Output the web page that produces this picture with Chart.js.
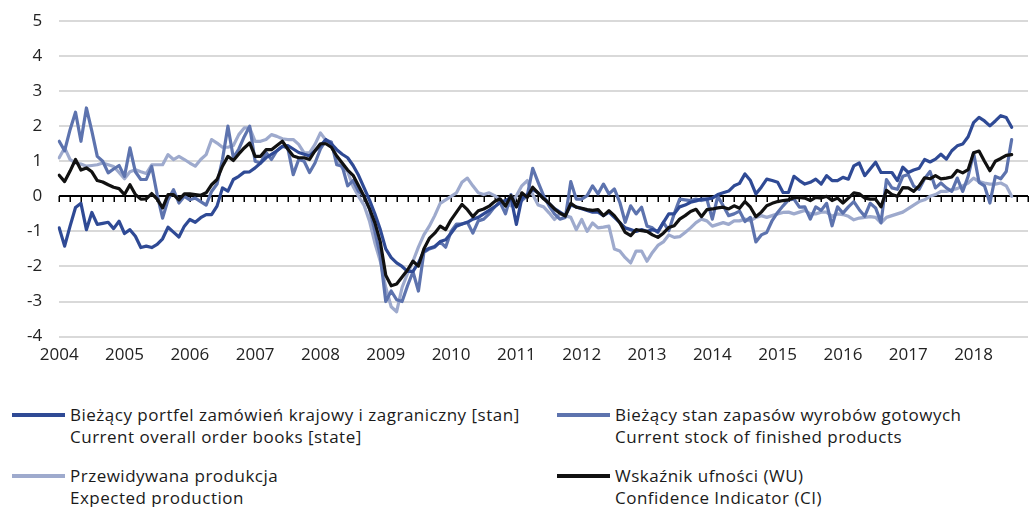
<!DOCTYPE html>
<html>
<head>
<meta charset="utf-8">
<script src="https://cdn.jsdelivr.net/npm/chart.js@4.4.1/dist/chart.umd.min.js"></script>
<style>
  body { margin: 0; background: #fff; font-family: 'Open Sans', sans-serif; }
  #wrap { position: relative; width: 1029px; height: 507px; }
  #myChart { position: absolute; left: 0; top: 0; }
  #legend { position: absolute; left: 12px; top: 404px; display: grid; grid-template-columns: 545px 470px; row-gap: 18px; }
  .item { display: flex; align-items: flex-start; }
  .swatch { width: 53px; height: 4px; margin-top: 9px; margin-right: 5px; flex: none; }
  .text { font-size: 17px; letter-spacing: 0.5px; line-height: 21.5px; color: #1a1a1a; white-space: nowrap; }
</style>
</head>
<body>
<div id="wrap">
  <canvas id="myChart" width="1029" height="372"></canvas>
  <div id="legend"></div>
</div>
<script>
// monthly data, Jan 2004 - Aug 2018
const years = ['2004', '2005', '2006', '2007', '2008', '2009', '2010', '2011',
               '2012', '2013', '2014', '2015', '2016', '2017', '2018'];
const monthsOnAxis = 179; // axis runs to Nov 2018

const orderBooks = [
    -0.9, -1.42, -0.85, -0.32, -0.2, -0.95, -0.46, -0.8, -0.77, -0.74, -0.92, -0.71,
    -1.06, -0.95, -1.14, -1.46, -1.42, -1.46, -1.37, -1.21, -0.88, -1.02, -1.16, -0.85,
    -0.66, -0.74, -0.61, -0.52, -0.52, -0.28, 0.24, 0.15, 0.48, 0.57, 0.69, 0.70,
    0.81, 0.95, 1.1, 1.2, 1.3, 1.42, 1.45, 1.35, 1.25, 1.2, 1.15, 1.3,
    1.45, 1.62, 1.5, 1.33, 1.2, 1.1, 0.88, 0.6, 0.25, -0.1, -0.5, -0.95,
    -1.5, -1.75, -1.9, -2.0, -2.14, -2.14, -1.9, -1.57, -1.48, -1.43, -1.29, -1.24,
    -1.05, -0.85, -0.79, -0.74, -0.65, -0.6, -0.5, -0.4, -0.3, -0.17, -0.12, -0.03,
    -0.8, -0.05, 0.05, 0.2, 0.1, -0.05, -0.2, -0.35, -0.45, -0.55, -0.25, -0.3,
    -0.35, -0.4, -0.45, -0.45, -0.55, -0.45, -0.6, -0.75, -0.9, -0.95, -1.0, -0.95,
    -1.0, -0.95, -1.0, -0.75, -0.5, -0.5, -0.3, -0.25, -0.17, -0.13, -0.08, -0.08,
    -0.05, 0.05, 0.1, 0.15, 0.3, 0.37, 0.64, 0.45, 0.07, 0.26, 0.49, 0.45,
    0.4, 0.11, 0.11, 0.57, 0.45, 0.35, 0.4, 0.49, 0.35, 0.59, 0.45, 0.45,
    0.54, 0.49, 0.87, 0.95, 0.59, 0.78, 0.97, 0.68, 0.68, 0.68, 0.45, 0.83,
    0.68, 0.75, 0.8, 1.05, 0.98, 1.06, 1.2, 1.06, 1.3, 1.44, 1.49, 1.7,
    2.1, 2.25, 2.15, 2.01, 2.15, 2.3, 2.25, 1.97
];

const finishedStock = [
    1.57, 1.3, 1.9, 2.4, 1.57, 2.52, 1.86, 1.14, 1.0, 0.67, 0.78, 0.88,
    0.57, 1.38, 0.7, 0.48, 0.48, 0.85, 0.05, -0.62, -0.1, 0.19, -0.19, 0.0,
    -0.1, -0.05, -0.15, -0.25, 0.14, 0.35, 1.05, 2.0, 1.1, 1.35, 1.7, 2.0,
    1.0, 0.95, 1.25, 1.05, 1.3, 1.43, 1.38, 0.62, 1.05, 1.0, 0.68, 0.95,
    1.35, 1.6, 1.55, 0.9, 0.86, 0.3, 0.45, 0.14, 0.0, -0.35, -1.0, -1.7,
    -3.0, -2.7, -2.95, -3.0, -2.55, -2.15, -2.7, -1.6, -1.5, -1.45, -1.3, -1.45,
    -1.0, -0.79, -0.79, -0.74, -1.05, -0.7, -0.65, -0.5, -0.3, -0.17, -0.5, 0.05,
    -0.3, -0.12, 0.02, 0.8, 0.4, 0.02, -0.27, -0.5, -0.65, -0.6, 0.42, -0.08,
    -0.08, 0.02, 0.3, 0.07, 0.35, 0.07, 0.21, -0.17, -0.74, -0.27, -0.5, -0.31,
    -0.85, -0.9, -1.03, -0.74, -0.98, -0.5, -0.08, -0.1, -0.12, -0.08, -0.12, -0.08,
    -0.65, 0.0, -0.27, -0.55, -0.5, -0.42, -0.72, -0.6, -1.3, -1.1, -1.03, -0.69,
    -0.46, -0.27, -0.1, -0.08, -0.31, -0.3, -0.65, -0.3, -0.4, -0.2, -0.84, -0.3,
    -0.48, -0.3, -0.15, -0.38, -0.57, -0.2, -0.33, -0.75, 0.48, 0.24, 0.2, 0.57,
    0.62, 0.29, 0.2, 0.5, 0.71, 0.24, 0.38, 0.24, 0.14, 0.52, 0.14, 0.57,
    1.24, 0.4, 0.3, -0.19, 0.57, 0.5, 0.71, 1.62
];

const expectedProduction = [
    1.1, 1.38, 1.05, 0.95, 0.92, 0.86, 0.88, 0.9, 0.95, 0.9, 0.85, 0.68,
    0.5, 0.7, 0.76, 0.7, 0.65, 0.9, 0.9, 0.9, 1.19, 1.05, 1.14, 1.05,
    0.95, 0.86, 1.05, 1.19, 1.62, 1.52, 1.4, 1.4, 1.45, 1.76, 1.95, 1.95,
    1.57, 1.57, 1.62, 1.76, 1.71, 1.64, 1.62, 1.62, 1.48, 1.24, 1.24, 1.48,
    1.81, 1.6, 1.45, 1.1, 0.81, 0.71, 0.28, 0.0, -0.25, -0.7, -1.33, -1.85,
    -2.6, -3.15, -3.29, -2.6, -2.2, -1.85, -1.45, -1.1, -0.85, -0.55, -0.2, -0.1,
    0.0, 0.1, 0.4, 0.52, 0.3, 0.1, 0.05, 0.1, 0.02, -0.1, -0.2, -0.27,
    0.02, 0.3, 0.45, 0.05, -0.25, -0.3, -0.47, -0.66, -0.5, -0.55, -0.6, -0.95,
    -0.66, -1.0, -0.76, -0.9, -0.88, -0.85, -1.5, -1.56, -1.75, -1.9, -1.56, -1.56,
    -1.85, -1.6, -1.4, -1.3, -1.1, -1.17, -1.15, -1.03, -0.9, -0.75, -0.65, -0.7,
    -0.85, -0.8, -0.75, -0.8, -0.7, -0.7, -0.65, -0.7, -0.6, -0.55, -0.6, -0.55,
    -0.5, -0.46, -0.45, -0.5, -0.45, -0.4, -0.5, -0.5, -0.45, -0.45, -0.57, -0.5,
    -0.52, -0.57, -0.67, -0.62, -0.6, -0.58, -0.6, -0.76, -0.6, -0.55, -0.5, -0.45,
    -0.35, -0.25, -0.15, -0.1, 0.0, 0.05, 0.14, 0.14, 0.19, 0.22, 0.3, 0.38,
    0.52, 0.42, 0.38, 0.35, 0.35, 0.38, 0.3, 0.0
];

const confidenceIndicator = [
    0.6, 0.42, 0.72, 1.05, 0.75, 0.81, 0.7, 0.45, 0.41, 0.33, 0.26, 0.22,
    0.05, 0.33, 0.05, -0.08, -0.07, 0.08, -0.08, -0.33, 0.05, 0.05, -0.1, 0.07,
    0.07, 0.05, 0.03, 0.1, 0.33, 0.48, 0.86, 1.14, 1.02, 1.21, 1.38, 1.52,
    1.14, 1.14, 1.33, 1.33, 1.45, 1.57, 1.35, 1.15, 1.1, 1.1, 1.05, 1.3,
    1.5, 1.5, 1.4, 1.15, 0.95, 0.75, 0.6, 0.3, 0.0, -0.35, -0.75, -1.3,
    -2.25, -2.55, -2.5, -2.3, -2.1, -1.85, -1.99, -1.5, -1.2, -1.05, -0.85, -0.95,
    -0.67, -0.45, -0.23, -0.38, -0.58, -0.41, -0.36, -0.28, -0.15, -0.07, -0.28, 0.02,
    -0.3, 0.1, -0.03, 0.26, 0.09, -0.07, -0.2, -0.36, -0.48, -0.56, -0.2, -0.31,
    -0.34, -0.38, -0.4, -0.38, -0.55, -0.41, -0.55, -0.75, -1.03, -1.12, -0.95, -0.98,
    -1.0, -1.1, -1.17, -1.05, -0.89, -0.84, -0.65, -0.55, -0.43, -0.37, -0.58, -0.38,
    -0.36, -0.33, -0.31, -0.36, -0.27, -0.34, -0.15, -0.31, -0.58, -0.45, -0.27, -0.2,
    -0.15, -0.12, -0.1, -0.04, -0.03, -0.05, -0.12, -0.03, -0.05, 0.0, -0.12, -0.05,
    -0.19, -0.05, 0.1, 0.07, -0.05, -0.08, -0.08, -0.3, 0.17, 0.05, 0.0, 0.25,
    0.24, 0.14, 0.3, 0.53, 0.5, 0.59, 0.5, 0.52, 0.55, 0.74, 0.67, 0.76,
    1.24, 1.29, 1.0, 0.73, 1.0, 1.08, 1.17, 1.19
];

const seriesNames = [
    ['Bieżący portfel zamówień krajowy i zagraniczny [stan]', 'Current overall order books [state]'],
    ['Bieżący stan zapasów wyrobów gotowych', 'Current stock of finished products'],
    ['Przewidywana produkcja', 'Expected production'],
    ['Wskaźnik ufności (WU)', 'Confidence Indicator (CI)']
];

window.onload = function () {

    Chart.defaults.font.family = "'Open Sans', sans-serif";
    Chart.defaults.color = '#222';

    // one label per month, year text only on January
    const labels = [];
    years.forEach(function (y) {
        for (let m = 0; m < 12; m++) labels.push(m === 0 ? y : '');
    });
    labels.length = monthsOnAxis;

    // black line through zero with short tick marks every 2 months
    const zeroAxis = {
        id: 'zeroAxis',
        beforeDatasetsDraw: function (chart) {
            const xs = chart.scales.x;
            const y0 = Math.round(chart.scales.y.getPixelForValue(0));
            const c = chart.ctx;
            c.save();
            c.strokeStyle = '#000';
            c.lineWidth = 1.5;
            c.beginPath();
            for (let i = 0; i < labels.length; i += 2) {
                const px = Math.round(xs.getPixelForValue(i)) + 0.25;
                c.moveTo(px, y0);
                c.lineTo(px, y0 + 6);
            }
            c.stroke();
            c.lineWidth = 2;
            c.beginPath();
            c.moveTo(xs.left, y0);
            c.lineTo(xs.right, y0);
            c.stroke();
            c.restore();
        }
    };

    function series(i, data, color, order) {
        return {
            label: seriesNames[i],
            data: data,
            borderColor: color,
            backgroundColor: color,
            borderWidth: 3.2,
            borderJoinStyle: 'round',
            borderCapStyle: 'round',
            pointRadius: 0,
            tension: 0,
            order: order
        };
    }

    const ctx = document.getElementById('myChart');

    const myChart = new Chart(ctx, {
        type: 'line',
        data: {
            labels: labels,
            datasets: [
                series(0, orderBooks, '#2f4a95', 1),
                series(1, finishedStock, '#5d73ae', 2),
                series(2, expectedProduction, '#9eaacd', 3),
                series(3, confidenceIndicator, '#111111', 0)
            ]
        },
        plugins: [zeroAxis],
        options: {
            responsive: false,
            animation: false,
            layout: { padding: { left: 27, right: 1, top: 21, bottom: 7 } },
            plugins: {
                legend: { display: false },
                tooltip: { enabled: false }
            },
            scales: {
                x: {
                    type: 'category',
                    offset: false,
                    // tick length (not tick padding) keeps the labels off the plot without eating right padding
                    grid: { display: false, drawTicks: true, tickLength: 8 },
                    border: { display: false },
                    ticks: { autoSkip: false, maxRotation: 0, padding: 0, font: { size: 17 } }
                },
                y: {
                    min: -4,
                    max: 5,
                    ticks: { stepSize: 1, padding: 0, font: { size: 17 } },
                    grid: { color: '#d9d9d9', lineWidth: 2, drawTicks: true, tickLength: 17, tickColor: 'rgba(0,0,0,0)' },
                    border: { display: false }
                }
            }
        }
    });

    // html legend, two columns, two lines per entry
    const legend = document.getElementById('legend');
    myChart.data.datasets.forEach(function (ds) {
        const item = document.createElement('div');
        item.className = 'item';
        const sw = document.createElement('div');
        sw.className = 'swatch';
        sw.style.background = ds.borderColor;
        const txt = document.createElement('div');
        txt.className = 'text';
        txt.innerHTML = ds.label.join('<br>');
        item.appendChild(sw);
        item.appendChild(txt);
        legend.appendChild(item);
    });
};
</script>
</body>
</html>
